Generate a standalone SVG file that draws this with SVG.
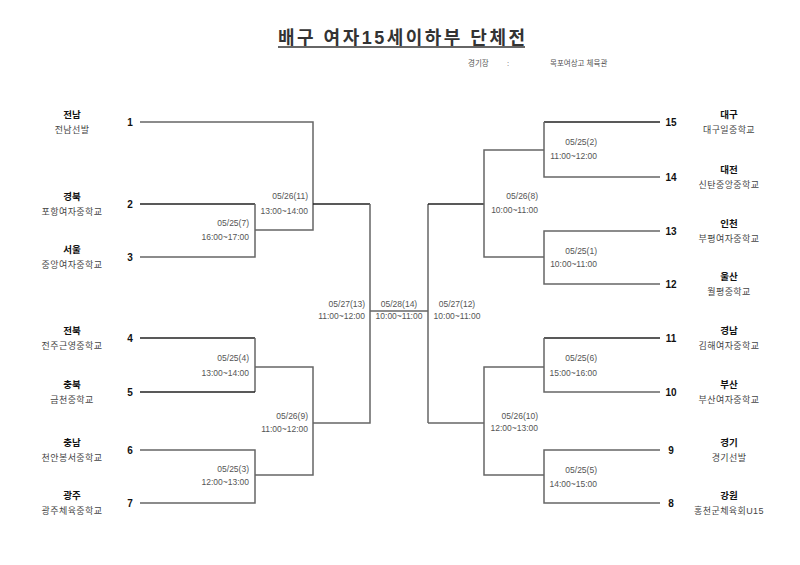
<svg xmlns="http://www.w3.org/2000/svg" width="800" height="565" viewBox="0 0 800 565">
<style>
text{font-family:"Liberation Sans","Noto Sans CJK KR",sans-serif}
.title{font-size:18px;font-weight:bold;fill:#333;text-anchor:middle}
.info{font-size:7.5px;fill:#555}
.num{font-size:10px;font-weight:bold;fill:#111;text-anchor:middle}
.nm{font-size:9.5px;font-weight:bold;fill:#111;text-anchor:middle}
.sc{font-size:9px;fill:#444;text-anchor:middle;letter-spacing:0.4px}
.dt{font-size:8.5px;fill:#555}
.e{text-anchor:end}
.m{text-anchor:middle}
.ln{fill:none;stroke:#666;stroke-width:1.5}
.dk{fill:none;stroke:#222;stroke-width:1.5}
</style>
<rect width="800" height="565" fill="#fff"/>
<g id="title">
<text class="title" x="401.5" y="44" textLength="247" lengthAdjust="spacing">배구 여자15세이하부 단체전</text>
<line x1="278" y1="47" x2="525" y2="47" stroke="#333" stroke-width="1.6"/>
<text class="info" x="468" y="66">경기장</text>
<text class="info" x="507" y="66">:</text>
<text class="info" x="550" y="66">목포여상고 체육관</text>
</g>
<g id="connectors">
<path class="ln" d="M140,122 H313 V230 H255"/>
<path class="dk" d="M140,204 H255"/>
<path class="ln" d="M255,204 V257 H140"/>
<path class="dk" d="M313,204 H370"/>
<path class="dk" d="M140,338 H255"/>
<path class="ln" d="M255,338 V392"/>
<path class="dk" d="M140,392 H255"/>
<path class="ln" d="M255,367 H313 V475 H255"/>
<path class="ln" d="M140,450 H255 V503 H140"/>
<path class="ln" d="M313,423 H370 V204"/>
<path class="ln" d="M370,311 H428"/>
<path class="ln" d="M428,423 V204"/>
<path class="dk" d="M428,204 H484"/>
<path class="ln" d="M544,150 H484 V257 H544"/>
<path class="dk" d="M660,122 H544"/>
<path class="ln" d="M544,122 V177 H660"/>
<path class="ln" d="M660,231 H544 V284 H660"/>
<path class="ln" d="M428,423 H484"/>
<path class="ln" d="M544,367 H484 V475 H544"/>
<path class="dk" d="M660,338 H544"/>
<path class="ln" d="M544,338 V392 H660"/>
<path class="ln" d="M660,450 H544 V503 H660"/>
</g>
<g id="team1"><text class="num" x="130" y="125.5">1</text><text class="nm" x="72" y="118">전남</text><text class="sc" x="72" y="133">전남선발</text></g>
<g id="team2"><text class="num" x="130" y="207.5">2</text><text class="nm" x="72" y="200">경북</text><text class="sc" x="72" y="215">포항여자중학교</text></g>
<g id="team3"><text class="num" x="130" y="260.5">3</text><text class="nm" x="72" y="253">서울</text><text class="sc" x="72" y="268">중앙여자중학교</text></g>
<g id="team4"><text class="num" x="130" y="341.5">4</text><text class="nm" x="72" y="334">전북</text><text class="sc" x="72" y="349">전주근영중학교</text></g>
<g id="team5"><text class="num" x="130" y="395.5">5</text><text class="nm" x="72" y="388">충북</text><text class="sc" x="72" y="403">금천중학교</text></g>
<g id="team6"><text class="num" x="130" y="453.5">6</text><text class="nm" x="72" y="446">충남</text><text class="sc" x="72" y="461">천안봉서중학교</text></g>
<g id="team7"><text class="num" x="130" y="506.5">7</text><text class="nm" x="72" y="499">광주</text><text class="sc" x="72" y="514">광주체육중학교</text></g>
<g id="team15"><text class="num" x="671" y="125.5">15</text><text class="nm" x="729" y="118">대구</text><text class="sc" x="729" y="133">대구일중학교</text></g>
<g id="team14"><text class="num" x="671" y="180.5">14</text><text class="nm" x="729" y="173">대전</text><text class="sc" x="729" y="188">신탄중앙중학교</text></g>
<g id="team13"><text class="num" x="671" y="234.5">13</text><text class="nm" x="729" y="227">인천</text><text class="sc" x="729" y="242">부평여자중학교</text></g>
<g id="team12"><text class="num" x="671" y="287.5">12</text><text class="nm" x="729" y="280">울산</text><text class="sc" x="729" y="295">월평중학교</text></g>
<g id="team11"><text class="num" x="671" y="341.5">11</text><text class="nm" x="729" y="334">경남</text><text class="sc" x="729" y="349">김해여자중학교</text></g>
<g id="team10"><text class="num" x="671" y="395.5">10</text><text class="nm" x="729" y="388">부산</text><text class="sc" x="729" y="403">부산여자중학교</text></g>
<g id="team9"><text class="num" x="671" y="453.5">9</text><text class="nm" x="729" y="446">경기</text><text class="sc" x="729" y="461">경기선발</text></g>
<g id="team8"><text class="num" x="671" y="506.5">8</text><text class="nm" x="729" y="499">강원</text><text class="sc" x="729" y="514">홍천군체육회U15</text></g>
<g id="match7"><text class="dt e" x="249" y="226">05/25(7)</text><text class="dt e" x="249" y="240">16:00~17:00</text></g>
<g id="match11"><text class="dt e" x="308" y="199">05/26(11)</text><text class="dt e" x="308" y="214">13:00~14:00</text></g>
<g id="match4"><text class="dt e" x="249" y="361">05/25(4)</text><text class="dt e" x="249" y="376">13:00~14:00</text></g>
<g id="match9"><text class="dt e" x="308" y="419">05/26(9)</text><text class="dt e" x="308" y="432">11:00~12:00</text></g>
<g id="match3"><text class="dt e" x="249" y="472">05/25(3)</text><text class="dt e" x="249" y="485">12:00~13:00</text></g>
<g id="match13"><text class="dt e" x="365" y="307">05/27(13)</text><text class="dt e" x="365" y="319">11:00~12:00</text></g>
<g id="match14"><text class="dt m" x="399" y="307">05/28(14)</text><text class="dt m" x="399" y="319">10:00~11:00</text></g>
<g id="match12"><text class="dt m" x="457" y="307">05/27(12)</text><text class="dt m" x="457" y="319">10:00~11:00</text></g>
<g id="match2"><text class="dt e" x="597" y="145">05/25(2)</text><text class="dt e" x="597" y="159">11:00~12:00</text></g>
<g id="match8"><text class="dt e" x="538" y="199">05/26(8)</text><text class="dt e" x="538" y="213">10:00~11:00</text></g>
<g id="match1"><text class="dt e" x="597" y="254">05/25(1)</text><text class="dt e" x="597" y="267">10:00~11:00</text></g>
<g id="match6"><text class="dt e" x="597" y="361">05/25(6)</text><text class="dt e" x="597" y="376">15:00~16:00</text></g>
<g id="match10"><text class="dt e" x="538" y="419">05/26(10)</text><text class="dt e" x="538" y="431">12:00~13:00</text></g>
<g id="match5"><text class="dt e" x="597" y="473">05/25(5)</text><text class="dt e" x="597" y="487">14:00~15:00</text></g>
</svg>
